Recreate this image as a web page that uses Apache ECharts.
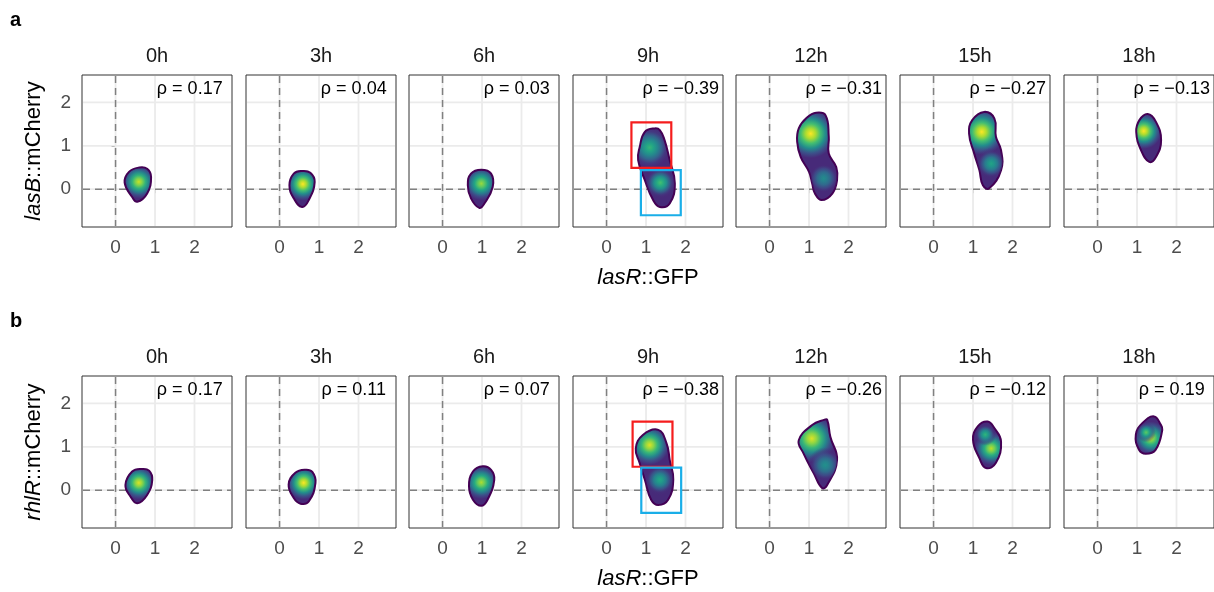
<!DOCTYPE html>
<html>
<head>
<meta charset="utf-8">
<title>lasR::GFP vs reporter density</title>
<script src="https://cdn.jsdelivr.net/npm/echarts@6.0.0/dist/echarts.min.js"></script>
<style>
  html, body { margin: 0; padding: 0; background: #fff; }
  #chart { width: 1214px; height: 592px; }
</style>
</head>
<body>
<div id="chart"></div>
<script>
// facet strips and axis breaks
const timePoints = ['0h', '3h', '6h', '9h', '12h', '15h', '18h'];
const axisTicks = [0, 1, 2];

// spearman rho shown in each panel
const rhoLasB = [0.17, 0.04, 0.03, -0.39, -0.31, -0.27, -0.13];
const rhoRhlR = [0.17, 0.11, 0.07, -0.38, -0.26, -0.12, 0.19];

// outer density contour per panel, points are [lasR::GFP, reporter::mCherry]
const outlineLasB = [
  [[0.23, 0.15], [0.42, -0.18], [0.55, -0.29], [0.80, -0.10], [0.90, 0.28], [0.80, 0.47], [0.60, 0.50], [0.34, 0.40]],
  [[0.25, 0.09], [0.36, -0.21], [0.57, -0.41], [0.74, -0.25], [0.89, 0.17], [0.78, 0.38], [0.57, 0.42], [0.36, 0.36]],
  [[0.64, 0.09], [0.72, -0.21], [0.93, -0.43], [1.06, -0.33], [1.27, 0.05], [1.23, 0.36], [0.98, 0.45], [0.72, 0.36]],
  [[0.80, 0.67], [0.97, 0.21], [1.18, -0.25], [1.35, -0.41], [1.60, -0.33], [1.73, 0.13], [1.60, 0.67], [1.47, 1.13], [1.35, 1.36], [1.22, 1.40], [0.97, 1.32], [0.84, 0.97]],
  [[0.70, 1.09], [0.79, 0.74], [1.00, 0.40], [1.08, 0.13], [1.15, -0.10], [1.32, -0.25], [1.59, -0.10], [1.71, 0.21], [1.69, 0.51], [1.50, 0.82], [1.50, 1.21], [1.42, 1.70], [1.18, 1.76], [0.95, 1.65], [0.74, 1.40]],
  [[0.90, 1.28], [1.03, 0.82], [1.16, 0.44], [1.25, 0.09], [1.41, 0.02], [1.71, 0.44], [1.71, 0.90], [1.58, 1.21], [1.54, 1.63], [1.28, 1.78], [0.98, 1.59]],
  [[0.98, 1.32], [1.10, 0.90], [1.31, 0.63], [1.48, 0.74], [1.61, 1.13], [1.48, 1.55], [1.27, 1.73], [1.06, 1.59]]
];
const outlineRhlR = [
  [[0.25, 0.12], [0.38, -0.15], [0.55, -0.30], [0.80, -0.11], [0.93, 0.24], [0.85, 0.45], [0.67, 0.49], [0.42, 0.43]],
  [[0.23, 0.13], [0.36, -0.18], [0.53, -0.31], [0.74, -0.26], [0.91, 0.17], [0.83, 0.42], [0.66, 0.47], [0.40, 0.40]],
  [[0.67, 0.09], [0.77, -0.22], [0.98, -0.36], [1.14, -0.22], [1.31, 0.24], [1.23, 0.47], [1.02, 0.55], [0.77, 0.43]],
  [[0.74, 0.96], [0.84, 0.62], [0.97, 0.24], [1.13, -0.22], [1.31, -0.34], [1.56, -0.22], [1.69, 0.24], [1.60, 0.70], [1.52, 1.08], [1.31, 1.39], [0.92, 1.27]],
  [[0.74, 1.15], [0.86, 0.85], [1.12, 0.39], [1.33, 0.05], [1.46, 0.12], [1.71, 0.70], [1.54, 1.23], [1.46, 1.62], [1.38, 1.62], [1.08, 1.50]],
  [[1.00, 1.16], [1.16, 0.74], [1.33, 0.51], [1.58, 0.63], [1.71, 1.12], [1.54, 1.43], [1.37, 1.58], [1.12, 1.47]],
  [[0.97, 1.28], [1.05, 0.93], [1.22, 0.84], [1.47, 0.93], [1.64, 1.39], [1.60, 1.51], [1.43, 1.70], [1.14, 1.55]]
];

// density peaks per panel: [x, y, spread (x units), relative density 0..1]
const peaksLasB = [
  [[0.59, 0.17, 0.42, 0.92]],
  [[0.59, 0.12, 0.42, 1.0]],
  [[0.98, 0.13, 0.42, 0.85]],
  [[1.09, 0.96, 0.50, 0.66], [1.36, 0.15, 0.40, 0.70]],
  [[1.04, 1.28, 0.62, 1.0], [1.37, 0.25, 0.42, 0.48]],
  [[1.22, 1.32, 0.58, 1.0], [1.46, 0.59, 0.40, 0.58]],
  [[1.17, 1.34, 0.45, 1.0]]
];
const peaksRhlR = [
  [[0.59, 0.17, 0.42, 0.95]],
  [[0.61, 0.17, 0.42, 1.0]],
  [[0.98, 0.18, 0.42, 0.88]],
  [[1.09, 1.04, 0.50, 0.95], [1.35, 0.24, 0.40, 0.60]],
  [[1.07, 1.19, 0.60, 0.95], [1.41, 0.58, 0.45, 0.50]],
  [[1.46, 0.96, 0.42, 0.90], [1.31, 1.28, 0.28, 0.65]],
  [[1.35, 1.20, 0.42, 0.90], [1.23, 1.33, 0.25, 0.75]]
];

// gating boxes in the 9h panels: [x1, y1, x2, y2]
const redBoxLasB = [0.63, 0.49, 1.64, 1.54];
const blueBoxLasB = [0.87, -0.60, 1.88, 0.44];
const redBoxRhlR = [0.66, 0.54, 1.67, 1.58];
const blueBoxRhlR = [0.88, -0.52, 1.89, 0.52];

// layout
const FONT = "'Liberation Sans', Arial, sans-serif";
const LEFT0 = 82, STEP = 163.6, PW = 150, PH = 152;
const ROW_TOP = [75, 376];
const X_MIN = -0.85, X_MAX = 2.95, Y_MIN = -0.87, Y_MAX = 2.63;
const RHO_POS = [1.88, 2.30];
const BOX_PANEL = 3;

const VIRIDIS = ['#440154', '#482475', '#414487', '#355F8D', '#2A788E', '#21918C',
  '#22A884', '#44BF70', '#7AD151', '#BDDF26', '#FDE725'];

function vir(t, a) {
  t = Math.max(0, Math.min(1, t)) * 10;
  const i = Math.min(9, Math.floor(t));
  const f = t - i;
  const c0 = VIRIDIS[i], c1 = VIRIDIS[i + 1];
  const ch = (c, k) => parseInt(c.substr(1 + 2 * k, 2), 16);
  const rgb = [0, 1, 2].map(k => Math.round(ch(c0, k) * (1 - f) + ch(c1, k) * f));
  return 'rgba(' + rgb.join(',') + ',' + a + ')';
}

function fmtRho(v) {
  return 'ρ = ' + (v < 0 ? '−' : '') + Math.abs(v).toFixed(2);
}

const rows = [
  { letter: 'a', gene: 'lasB', rho: rhoLasB, outlines: outlineLasB, peaks: peaksLasB, red: redBoxLasB, blue: blueBoxLasB },
  { letter: 'b', gene: 'rhlR', rho: rhoRhlR, outlines: outlineRhlR, peaks: peaksRhlR, red: redBoxRhlR, blue: blueBoxRhlR }
];

const grids = [], xAxes = [], yAxes = [], series = [], texts = [];

function crossLines(style) {
  return function (params, api) {
    const cs = params.coordSys;
    const p = api.coord([api.value(0), api.value(1)]);
    return {
      type: 'group',
      children: [
        { type: 'line', shape: { x1: p[0], y1: cs.y + 1, x2: p[0], y2: cs.y + cs.height - 1 }, style: style },
        { type: 'line', shape: { x1: cs.x + 1, y1: p[1], x2: cs.x + cs.width - 1, y2: p[1] }, style: style }
      ]
    };
  };
}

// density falls off from the peak: value at radius fraction t
function fall(L, t) {
  return L * (1 - Math.pow(t, 1.3));
}

function blobRenderer(outline) {
  return function (params, api) {
    const pts = outline.map(p => api.coord(p));
    const c = api.coord([api.value(0), api.value(1)]);
    const r = api.size([api.value(2), 0])[0];
    const L = api.value(3);
    const first = params.dataIndex === 0;
    const stops = [];
    [0, 0.2, 0.4, 0.6, 0.8, 1].forEach(t => {
      const v = Math.max(fall(L, t), 0.12);
      const a = first ? 1 : (t < 0.5 ? 1 : Math.max(0, 1 - (t - 0.5) * 2));
      stops.push({ offset: t, color: vir(v, a) });
    });
    return {
      type: 'polygon',
      shape: { points: pts, smooth: 0.45 },
      style: {
        fill: new echarts.graphic.RadialGradient(c[0], c[1], r, stops, true),
        stroke: first ? '#440154' : null,
        lineWidth: first ? 2 : 0
      }
    };
  };
}

function boxRenderer(params, api) {
  const a = api.coord([api.value(0), api.value(3)]);
  const b = api.coord([api.value(2), api.value(1)]);
  return {
    type: 'rect',
    shape: { x: a[0], y: a[1], width: b[0] - a[0], height: b[1] - a[1] },
    style: { fill: null, stroke: params.dataIndex === 0 ? '#F51D1D' : '#1AAEE8', lineWidth: 2.2 }
  };
}

function rhoRenderer(params, api) {
  const p = api.coord(RHO_POS);
  return {
    type: 'text',
    x: p[0], y: p[1],
    style: {
      text: fmtRho(api.value(0)), fill: '#000', font: '18px ' + FONT,
      align: 'center', verticalAlign: 'middle'
    }
  };
}

rows.forEach((row, ri) => {
  const top = ROW_TOP[ri];
  texts.push({ type: 'text', x: 10, y: top - 55, style: { text: row.letter, font: 'bold 20px ' + FONT, fill: '#000', align: 'left', verticalAlign: 'middle' } });
  texts.push({
    type: 'text', x: 34, y: top + PH / 2, rotation: Math.PI / 2,
    style: {
      text: '{i|' + row.gene + '}::mCherry', font: '22px ' + FONT, fill: '#000',
      align: 'center', verticalAlign: 'middle',
      rich: { i: { fontStyle: 'italic', font: 'italic 22px ' + FONT, fill: '#000' } }
    }
  });
  texts.push({
    type: 'text', x: Math.round(LEFT0 + 3 * STEP) + PW / 2, y: top + 203,
    style: {
      text: '{i|lasR}::GFP', font: '22px ' + FONT, fill: '#000',
      align: 'center', verticalAlign: 'middle',
      rich: { i: { fontStyle: 'italic', font: 'italic 22px ' + FONT, fill: '#000' } }
    }
  });

  timePoints.forEach((tp, k) => {
    const gi = grids.length;
    const left = Math.round(LEFT0 + STEP * k);
    grids.push({
      left: left, top: top, width: PW, height: PH,
      show: true, borderColor: '#333333', borderWidth: 1, backgroundColor: '#fff'
    });
    texts.push({ type: 'text', x: left + PW / 2, y: top - 18.5, style: { text: tp, font: '20px ' + FONT, fill: '#1A1A1A', align: 'center', verticalAlign: 'middle' } });

    xAxes.push({
      gridIndex: gi, type: 'value', min: X_MIN, max: X_MAX,
      axisLine: { show: false }, splitLine: { show: false },
      axisTick: { show: true, customValues: axisTicks, length: 4, lineStyle: { color: '#333333', width: 1 } },
      axisLabel: { show: true, customValues: axisTicks, color: '#4D4D4D', fontSize: 19, fontFamily: FONT, margin: 11 }
    });
    yAxes.push({
      gridIndex: gi, type: 'value', min: Y_MIN, max: Y_MAX,
      axisLine: { show: false }, splitLine: { show: false },
      axisTick: { show: k === 0, customValues: axisTicks, length: 4, lineStyle: { color: '#333333', width: 1 } },
      axisLabel: { show: k === 0, customValues: axisTicks, color: '#4D4D4D', fontSize: 19, fontFamily: FONT, margin: 11 }
    });

    series.push({
      type: 'custom', xAxisIndex: gi, yAxisIndex: gi, silent: true, z: 1,
      data: axisTicks.map(t => [t, t]),
      renderItem: crossLines({ stroke: '#EBEBEB', lineWidth: 1.8 })
    });
    series.push({
      type: 'custom', xAxisIndex: gi, yAxisIndex: gi, silent: true, z: 2,
      data: [[0, 0]],
      renderItem: crossLines({ stroke: '#808080', lineWidth: 1.5, lineDash: [7, 5] })
    });
    series.push({
      type: 'custom', xAxisIndex: gi, yAxisIndex: gi, silent: true, z: 3,
      data: row.peaks[k], renderItem: blobRenderer(row.outlines[k])
    });
    if (k === BOX_PANEL) {
      series.push({
        type: 'custom', xAxisIndex: gi, yAxisIndex: gi, silent: true, z: 4,
        encode: { x: [0, 2], y: [1, 3] },
        data: [row.red, row.blue], renderItem: boxRenderer
      });
    }
    series.push({
      type: 'custom', xAxisIndex: gi, yAxisIndex: gi, silent: true, z: 5,
      data: [[row.rho[k]]], renderItem: rhoRenderer
    });
  });
});

const chart = echarts.init(document.getElementById('chart'), null, { renderer: 'canvas' });
chart.setOption({
  animation: false,
  backgroundColor: '#fff',
  grid: grids,
  xAxis: xAxes,
  yAxis: yAxes,
  series: series,
  graphic: { elements: texts }
});
</script>
</body>
</html>
